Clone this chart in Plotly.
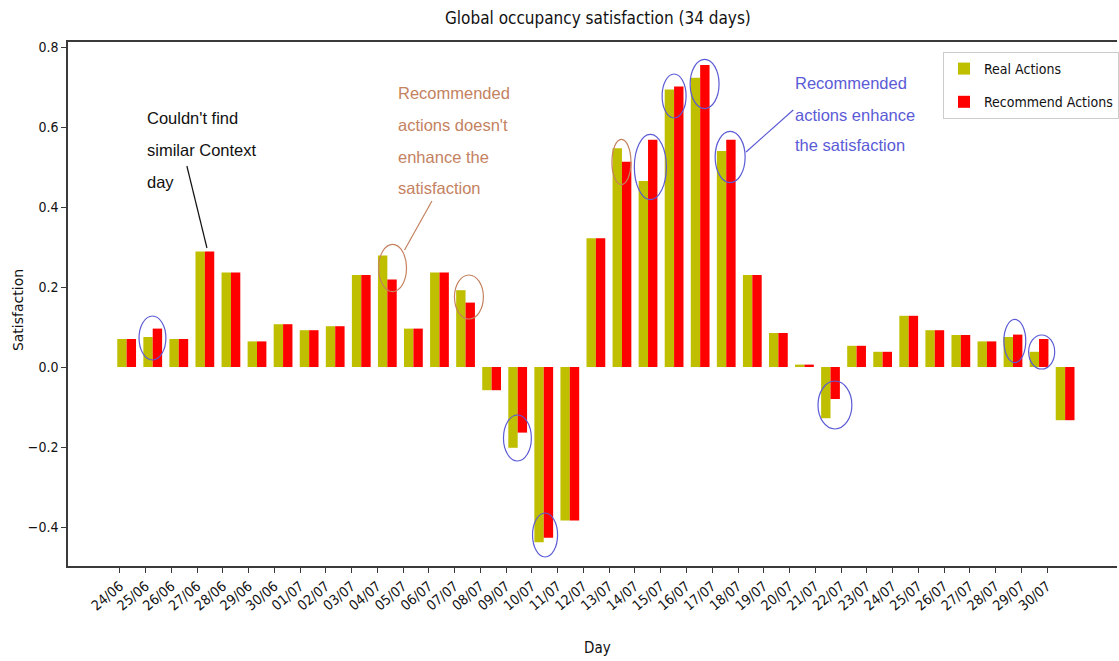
import plotly.graph_objects as go

# ---------------- data ----------------
days = ["24/06", "25/06", "26/06", "27/06", "28/06", "29/06", "30/06",
        "01/07", "02/07", "03/07", "04/07", "05/07", "06/07", "07/07",
        "08/07", "09/07", "10/07", "11/07", "12/07", "13/07", "14/07",
        "15/07", "16/07", "17/07", "18/07", "19/07", "20/07", "21/07",
        "22/07", "23/07", "24/07", "25/07", "26/07", "27/07", "28/07",
        "29/07", "30/07"]

real_actions = [0.070, 0.075, 0.070, 0.289, 0.236, 0.064, 0.107,
                0.092, 0.102, 0.230, 0.279, 0.096, 0.236, 0.192,
                -0.058, -0.202, -0.438, -0.384, 0.322, 0.547, 0.465,
                0.694, 0.723, 0.540, 0.230, 0.085, 0.006, -0.128,
                0.053, 0.038, 0.128, 0.092, 0.080, 0.064, 0.075,
                0.038, -0.133]

recommend_actions = [0.070, 0.096, 0.070, 0.289, 0.236, 0.064, 0.107,
                     0.092, 0.102, 0.230, 0.219, 0.096, 0.236, 0.161,
                     -0.058, -0.164, -0.427, -0.384, 0.322, 0.513, 0.568,
                     0.701, 0.755, 0.568, 0.230, 0.085, 0.006, -0.080,
                     0.053, 0.038, 0.128, 0.092, 0.080, 0.064, 0.081,
                     0.070, -0.133]

y_ticks = [-0.4, -0.2, 0.0, 0.2, 0.4, 0.6, 0.8]

# ---------------- styles ----------------
YELLOW = "#bfbf00"
RED = "#ff0000"
BLUE = "#5b5bd6"
BROWN = "#c4825f"
AXIS = "#3a3a3a"
FONT_MAIN = "DejaVu Sans Condensed, DejaVu Sans, sans-serif"
FONT_NOTE = "Liberation Sans, Arial, sans-serif"

idx = list(range(len(days)))
tick_pos = [i * 0.988 - 0.26 for i in idx]

fig = go.Figure()
fig.add_trace(go.Bar(x=idx, y=real_actions, name="Real Actions",
                     marker=dict(color=YELLOW, line=dict(width=0)),
                     legendgroup="a"))
fig.add_trace(go.Bar(x=idx, y=recommend_actions, name="Recommend Actions",
                     marker=dict(color=RED, line=dict(width=0)),
                     legendgroup="b"))

# ---------------- highlight ellipses (x center, y center, w, h, colour) ----------------
ellipses = [
    (0.99, 0.0725, 1.03, 0.110, BLUE),
    (14.99, -0.1775, 1.07, 0.115, BLUE),
    (16.05, -0.420, 0.96, 0.110, BLUE),
    (20.09, 0.500, 1.23, 0.163, BLUE),
    (21.00, 0.6775, 0.92, 0.110, BLUE),
    (22.17, 0.7075, 1.11, 0.123, BLUE),
    (23.15, 0.525, 1.15, 0.128, BLUE),
    (27.17, -0.095, 1.30, 0.120, BLUE),
    (34.07, 0.065, 0.84, 0.108, BLUE),
    (35.10, 0.0375, 1.00, 0.085, BLUE),
    (10.20, 0.2475, 1.07, 0.118, BROWN),
    (13.13, 0.175, 1.11, 0.110, BROWN),
    (18.98, 0.5125, 0.73, 0.113, BROWN),
]
for xc, yc, w, h, col in ellipses:
    fig.add_shape(type="circle", xref="x", yref="y",
                  x0=xc - w / 2, x1=xc + w / 2, y0=yc - h / 2, y1=yc + h / 2,
                  line=dict(color=col, width=1.2), fillcolor="rgba(0,0,0,0)")

# leader lines
leaders = [
    (2.31, 0.5025, 3.08, 0.2975, "#111111"),
    (11.71, 0.415, 10.66, 0.2925, BROWN),
    (25.57, 0.6425, 23.76, 0.5375, BLUE),
]
for x0, y0, x1, y1, col in leaders:
    fig.add_shape(type="line", xref="x", yref="y", x0=x0, y0=y0, x1=x1, y1=y1,
                  line=dict(color=col, width=1.2))

# text notes (one annotation per line to control line spacing)
notes = [
    (0.70, [0.6225, 0.5425, 0.4625], ["Couldn't find", "similar Context", "day"], "#111111"),
    (10.32, [0.685, 0.605, 0.525, 0.4475],
     ["Recommended", "actions doesn't", "enhance the", "satisfaction"], BROWN),
    (25.57, [0.71, 0.63, 0.555], ["Recommended", "actions enhance", "the satisfaction"], BLUE),
]
for xl, ys, lines, col in notes:
    for yy, txt in zip(ys, lines):
        fig.add_annotation(x=xl, y=yy, xref="x", yref="y", text=txt,
                           showarrow=False, xanchor="left", yanchor="middle",
                           font=dict(family=FONT_NOTE, size=16.5, color=col))

# title and axis titles
fig.add_annotation(text="Global occupancy satisfaction (34 days)", xref="paper", yref="paper",
                   x=(599 - 68) / 1051, y=1 + (42 - 18) / 524, xanchor="center", yanchor="middle",
                   showarrow=False, font=dict(family=FONT_MAIN, size=17, color="#111111"))
fig.add_annotation(text="Day", xref="paper", yref="paper",
                   x=(599 - 68) / 1051, y=-(648 - 566) / 524, xanchor="center", yanchor="middle",
                   showarrow=False, font=dict(family=FONT_MAIN, size=15, color="#111111"))
fig.add_annotation(text="Satisfaction", xref="paper", yref="paper", textangle=-90,
                   x=-(68 - 18) / 1051, y=(566 - 310) / 524, xanchor="center", yanchor="middle",
                   showarrow=False, font=dict(family="DejaVu Sans, sans-serif", size=14, color="#111111"))

fig.update_layout(
    width=1119, height=661,
    margin=dict(l=68, r=0, t=42, b=95),
    paper_bgcolor="white", plot_bgcolor="white",
    barmode="group", bargap=0.28, bargroupgap=0,
    showlegend=True,
    legend=dict(x=(945 - 68) / 1051, y=(566 - 52) / 524, xanchor="left", yanchor="top",
                bgcolor="white", bordercolor="#cccccc", borderwidth=1,
                font=dict(family=FONT_MAIN, size=14, color="#111111"),
                tracegroupgap=12, itemwidth=30),
    font=dict(family=FONT_MAIN, color="#111111"),
)
fig.update_xaxes(range=[-2.25, 37.99], tickmode="array", tickvals=tick_pos, ticktext=days,
                 tickangle=-40, ticks="outside", ticklen=5, tickcolor=AXIS,
                 tickfont=dict(family=FONT_MAIN, size=14, color="#111111"),
                 showline=True, linecolor=AXIS, linewidth=1.5, mirror=True,
                 showgrid=False, zeroline=False)
fig.update_yaxes(range=[-0.4975, 0.8125], tickmode="array", tickvals=y_ticks,
                 tickformat=".1f", ticks="outside", ticklen=5, tickcolor=AXIS,
                 tickfont=dict(family=FONT_MAIN, size=14, color="#111111"),
                 showline=True, linecolor=AXIS, linewidth=1.5, mirror=False,
                 showgrid=False, zeroline=False)

fig.write_html("out.html", config={"displayModeBar": False},
               post_script="document.body.style.margin='0';")
